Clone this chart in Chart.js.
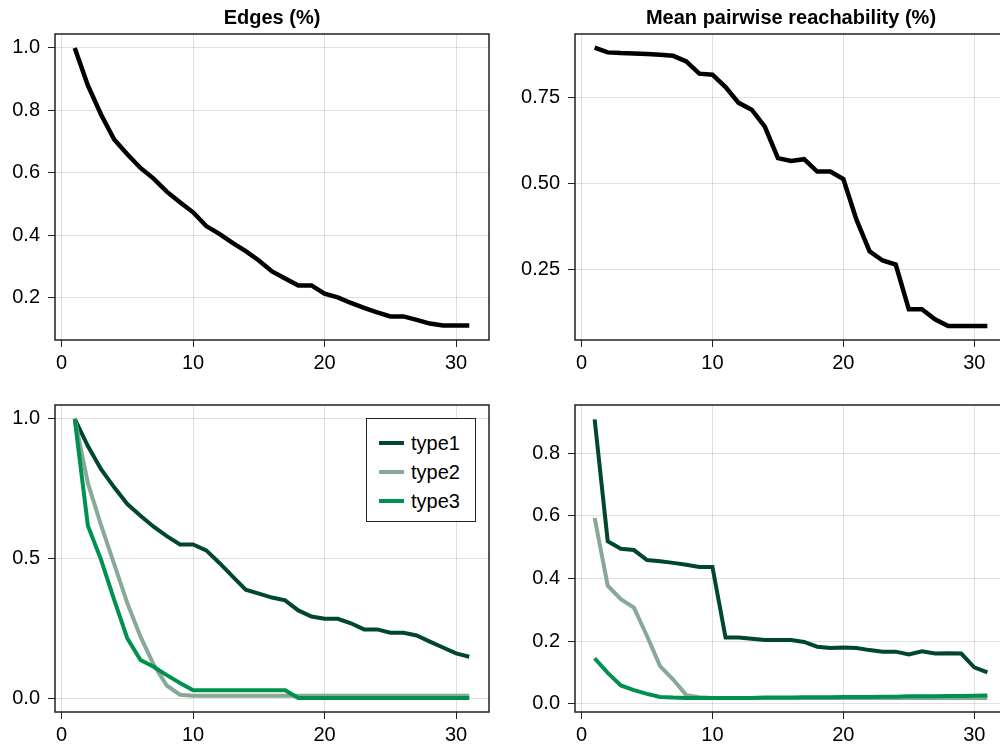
<!DOCTYPE html>
<html>
<head>
<meta charset="utf-8">
<script src="https://cdn.jsdelivr.net/npm/chart.js@4"></script>
<style>
  html, body { margin: 0; padding: 0; background: #fff; }
  body { width: 1000px; height: 744px; overflow: hidden; position: relative; }
  canvas { position: absolute; }
  #legend3 {
    position: absolute; left: 366px; top: 418px; width: 108px; height: 102px;
    border: 1px solid #222; background: #fff; box-sizing: content-box;
    font-family: 'Liberation Sans', Arial, sans-serif; font-size: 20px; color: #000;
  }
  #legend3 .item { position: absolute; left: 12px; height: 22px; }
  #legend3 .swatch { position: absolute; left: 0; top: 9px; width: 25px; height: 4px; }
  #legend3 .label { position: absolute; left: 32px; top: 0; line-height: 22px; }
</style>
</head>
<body>
<canvas id="c1" width="500" height="372" style="left:0;top:0"></canvas>
<canvas id="c2" width="520" height="372" style="left:500px;top:0"></canvas>
<canvas id="c3" width="500" height="372" style="left:0;top:372px"></canvas>
<canvas id="c4" width="520" height="372" style="left:500px;top:372px"></canvas>
<div id="legend3"></div>
<script>
// x positions (step)
const steps = [1,2,3,4,5,6,7,8,9,10,11,12,13,14,15,16,17,18,19,20,21,22,23,24,25,26,27,28,29,30,31];

// top row
const edges = [1.0,0.88,0.787,0.707,0.66,0.616,0.582,0.54,0.506,0.474,0.43,0.405,0.376,0.35,0.32,0.285,
  0.262,0.24,0.24,0.214,0.202,0.184,0.168,0.154,0.141,0.141,0.13,0.118,0.112,0.112,0.112];
const reach = [0.896,0.882,0.88,0.879,0.877,0.875,0.872,0.856,0.82,0.817,0.781,0.735,0.715,0.666,0.574,
  0.566,0.571,0.535,0.535,0.513,0.395,0.303,0.276,0.264,0.134,0.134,0.105,0.085,0.085,0.085,0.085];

// bottom row, by type
const typeNames = ['type1', 'type2', 'type3'];
const typeColors = ['#00472b', '#88a898', '#00914f'];

const edgesType1 = [1.0,0.903,0.82,0.755,0.695,0.653,0.614,0.58,0.55,0.55,0.529,0.484,0.436,0.388,0.374,
  0.36,0.35,0.314,0.292,0.284,0.284,0.268,0.246,0.246,0.234,0.234,0.224,0.202,0.181,0.16,0.148];
const edgesType2 = [1.0,0.77,0.62,0.48,0.34,0.22,0.12,0.045,0.012,0.008,0.008,0.008,0.008,0.008,0.008,
  0.008,0.008,0.008,0.008,0.008,0.008,0.008,0.008,0.008,0.008,0.008,0.008,0.008,0.008,0.008,0.008];
const edgesType3 = [1.0,0.617,0.496,0.352,0.214,0.136,0.112,0.082,0.054,0.028,0.028,0.028,0.028,0.028,0.028,
  0.028,0.028,0.0,0.0,0.0,0.0,0.0,0.0,0.0,0.0,0.0,0.0,0.0,0.0,0.0,0.0];

const reachType1 = [0.909,0.519,0.495,0.491,0.459,0.455,0.45,0.444,0.437,0.437,0.211,0.211,0.207,0.203,0.203,
  0.203,0.197,0.182,0.178,0.179,0.178,0.171,0.166,0.166,0.157,0.167,0.16,0.161,0.16,0.116,0.1];
const reachType2 = [0.594,0.377,0.334,0.307,0.216,0.12,0.077,0.027,0.02,0.018,0.018,0.018,0.018,0.018,0.018,
  0.018,0.018,0.018,0.018,0.018,0.018,0.018,0.018,0.018,0.018,0.018,0.018,0.018,0.018,0.018,0.018];
const reachType3 = [0.145,0.098,0.058,0.043,0.031,0.021,0.019,0.018,0.018,0.018,0.018,0.018,0.018,0.019,0.019,
  0.019,0.02,0.02,0.02,0.021,0.021,0.021,0.022,0.022,0.023,0.023,0.023,0.024,0.024,0.025,0.026];

// ticks
const xTicks = [0, 10, 20, 30];
const edgesTicks = [0.2, 0.4, 0.6, 0.8, 1.0];
const reachTicks = [0.25, 0.5, 0.75];
const edgesTypeTicks = [0.0, 0.5, 1.0];
const reachTypeTicks = [0.0, 0.2, 0.4, 0.6, 0.8];

const titles = ['Edges (%)', 'Mean pairwise reachability (%)'];

const FONT = "'Liberation Sans', Arial, sans-serif";
Chart.defaults.font.family = FONT;
Chart.defaults.color = '#000';

function pts(ys) {
  return steps.map((x, i) => ({ x: x, y: ys[i] }));
}

// full box around the plot area
const frame = {
  id: 'frame',
  afterDraw(chart) {
    const a = chart.chartArea, c = chart.ctx;
    c.save();
    c.strokeStyle = '#222';
    c.lineWidth = 1.5;
    c.strokeRect(a.left, a.top, a.right - a.left, a.bottom - a.top);
    c.restore();
  }
};

function makePanel(id, opts) {
  const datasets = opts.series.map((s, i) => ({
    label: s.label,
    data: pts(s.data),
    borderColor: s.color,
    borderWidth: opts.lineWidth,
    pointRadius: 0,
    tension: 0,
    fill: false,
    order: opts.series.length - i
  }));
  return new Chart(document.getElementById(id), {
    type: 'line',
    data: { datasets },
    options: {
      responsive: false,
      animation: false,
      devicePixelRatio: 1,
      layout: { padding: { top: opts.padTop, right: opts.padRight, bottom: 0, left: 0 } },
      plugins: {
        legend: { display: false },
        tooltip: { enabled: false },
        title: {
          display: !!opts.title,
          text: opts.title || '',
          fullSize: false,
          font: { size: 20, weight: 'bold', family: FONT },
          color: '#000',
          padding: { top: 6, bottom: 4 }
        }
      },
      scales: {
        x: {
          type: 'linear',
          min: -0.5, max: 32.5,
          afterFit: s => { s.height = 32; },
          afterBuildTicks: s => { s.ticks = xTicks.map(v => ({ value: v })); },
          ticks: { font: { size: 20 }, padding: 4, maxRotation: 0, color: '#000' },
          grid: { color: 'rgba(0,0,0,0.12)', tickColor: '#222', tickLength: 7, lineWidth: 1 },
          border: { display: false }
        },
        y: {
          type: 'linear',
          min: opts.yMin, max: opts.yMax,
          afterFit: s => { s.width = opts.yWidth; },
          afterBuildTicks: s => { s.ticks = opts.yTicks.map(v => ({ value: v })); },
          ticks: {
            font: { size: 20 }, padding: 8, color: '#000',
            callback: v => Number(v).toFixed(opts.decimals)
          },
          grid: { color: 'rgba(0,0,0,0.12)', tickColor: '#222', tickLength: 7, lineWidth: 1 },
          border: { display: false }
        }
      }
    },
    plugins: [frame]
  });
}

makePanel('c1', {
  title: titles[0], padTop: 0, padRight: 11, yWidth: 55, lineWidth: 4.5,
  yMin: 0.0655, yMax: 1.0445, yTicks: edgesTicks, decimals: 1,
  series: [{ label: 'edges', data: edges, color: '#000' }]
});

makePanel('c2', {
  title: titles[1], padTop: 0, padRight: 13, yWidth: 75, lineWidth: 4.5,
  yMin: 0.0445, yMax: 0.9355, yTicks: reachTicks, decimals: 2,
  series: [{ label: 'reachability', data: reach, color: '#000' }]
});

const c3 = makePanel('c3', {
  padTop: 33, padRight: 11, yWidth: 55, lineWidth: 4,
  yMin: -0.05, yMax: 1.05, yTicks: edgesTypeTicks, decimals: 1,
  series: [
    { label: typeNames[0], data: edgesType1, color: typeColors[0] },
    { label: typeNames[1], data: edgesType2, color: typeColors[1] },
    { label: typeNames[2], data: edgesType3, color: typeColors[2] }
  ]
});

makePanel('c4', {
  padTop: 33, padRight: 13, yWidth: 75, lineWidth: 4,
  yMin: -0.027, yMax: 0.955, yTicks: reachTypeTicks, decimals: 1,
  series: [
    { label: typeNames[0], data: reachType1, color: typeColors[0] },
    { label: typeNames[1], data: reachType2, color: typeColors[1] },
    { label: typeNames[2], data: reachType3, color: typeColors[2] }
  ]
});

// html legend for the bottom-left panel
const legendBox = document.getElementById('legend3');
c3.data.datasets.forEach((ds, i) => {
  const item = document.createElement('div');
  item.className = 'item';
  item.style.top = (13 + i * 29) + 'px';
  item.innerHTML = '<span class="swatch" style="background:' + ds.borderColor + '"></span>' +
    '<span class="label">' + ds.label + '</span>';
  legendBox.appendChild(item);
});
</script>
</body>
</html>
